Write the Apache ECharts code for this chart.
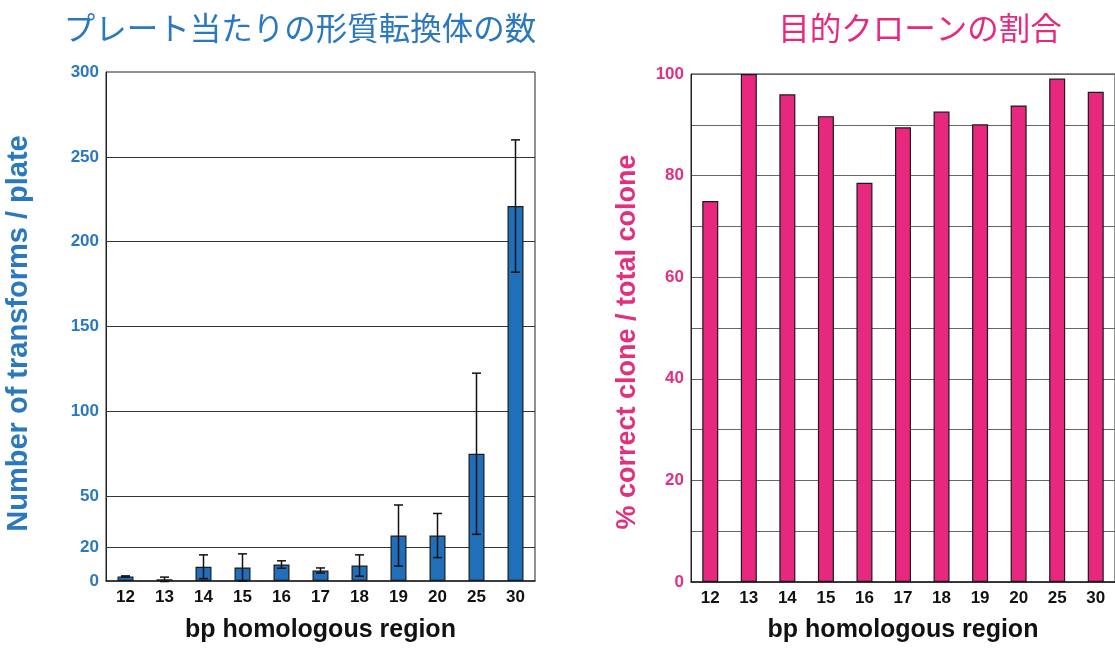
<!DOCTYPE html>
<html>
<head>
<meta charset="utf-8">
<script src="https://cdn.jsdelivr.net/npm/echarts@6/dist/echarts.min.js"></script>
<style>
  html, body { margin: 0; padding: 0; background: #ffffff; }
  #chart { width: 1115px; height: 648px; }
</style>
</head>
<body>
<div id="chart"></div>
<script>
// bp homologous region
const regions = ['12', '13', '14', '15', '16', '17', '18', '19', '20', '25', '30']

// left: transformants per plate (mean and error half-width)
const transformants = [2.7, 1, 8.4, 8, 9.7, 6.2, 9.1, 26.8, 26.8, 75, 221]
const transformErr = [0.3, 1.3, 7, 8, 2.2, 1.5, 6.3, 18, 13, 47.5, 39]
const leftTicks = [0, 20, 50, 100, 150, 200, 250, 300]
const leftGridLines = [20, 50, 100, 150, 200, 250]

// right: % correct clone / total clone
const correctRate = [75, 100, 96, 91.7, 78.6, 89.5, 92.6, 90.1, 93.8, 99.1, 96.5]

const blue = '#1f6fba'
const blueText = '#2a78bf'
const pink = '#e8287f'
const pinkText = '#e2307f'
const font = 'Liberation Sans, Arial, sans-serif'

const errData = transformants.map((v, i) => [i, v - transformErr[i], v + transformErr[i]])

const chart = echarts.init(document.getElementById('chart'))

chart.setOption({
  animation: false,
  textStyle: { fontFamily: font },
  title: [
    {
      text: 'プレート当たりの形質転換体の数',
      left: 295,
      top: 7,
      textAlign: 'center',
      textStyle: { fontFamily: 'Noto Sans CJK JP', fontWeight: 'normal', fontSize: 31.5, color: blueText },
    },
    {
      text: '目的クローンの割合',
      left: 915,
      top: 7,
      textAlign: 'center',
      textStyle: { fontFamily: 'Noto Sans CJK JP', fontWeight: 'normal', fontSize: 31.5, color: pink },
    },
  ],
  grid: [
    { left: 106, top: 72, width: 429, height: 513, show: true, borderColor: '#222', borderWidth: 1 },
    { left: 691, top: 74, width: 425, height: 512, show: true, borderColor: '#222', borderWidth: 1 },
  ],
  xAxis: [
    {
      type: 'category',
      gridIndex: 0,
      data: regions,
      axisLine: { lineStyle: { color: '#222', width: 1.5 } },
      axisTick: { show: false },
      axisLabel: { color: '#111', fontWeight: 'bold', fontSize: 17, margin: 8 },
      name: 'bp homologous region',
      nameLocation: 'middle',
      nameGap: 37,
      nameTextStyle: { color: '#111', fontWeight: 'bold', fontSize: 25 },
    },
    {
      type: 'category',
      gridIndex: 1,
      data: regions,
      axisLine: { lineStyle: { color: '#222', width: 1.5 } },
      axisTick: { show: false },
      axisLabel: { color: '#111', fontWeight: 'bold', fontSize: 17, margin: 8 },
      name: 'bp homologous region',
      nameLocation: 'middle',
      nameGap: 36,
      nameTextStyle: { color: '#111', fontWeight: 'bold', fontSize: 25 },
    },
  ],
  yAxis: [
    {
      type: 'value',
      gridIndex: 0,
      min: 0,
      max: 300,
      interval: 10,
      axisLine: { show: true, lineStyle: { color: '#222' } },
      axisTick: { show: false },
      splitLine: { show: false },
      axisLabel: {
        color: blueText,
        fontWeight: 'bold',
        fontSize: 17,
        margin: 7,
        formatter: (v) => (leftTicks.includes(v) ? String(v) : ''),
      },
      name: 'Number of transforms / plate',
      nameLocation: 'middle',
      nameGap: 73,
      nameTextStyle: { color: blueText, fontWeight: 'bold', fontSize: 29, padding: [0, 14, 0, 0] },
    },
    {
      type: 'value',
      gridIndex: 1,
      min: 0,
      max: 100,
      interval: 10,
      axisLine: { show: true, lineStyle: { color: '#222' } },
      axisTick: { show: false },
      splitLine: { show: true, lineStyle: { color: '#666', width: 1 } },
      axisLabel: {
        color: pinkText,
        fontWeight: 'bold',
        fontSize: 17,
        margin: 7,
        formatter: (v) => (v % 20 === 0 ? String(v) : ''),
      },
      name: '% correct clone / total colone',
      nameLocation: 'middle',
      nameGap: 50,
      nameTextStyle: { color: pinkText, fontWeight: 'bold', fontSize: 27, padding: [0, 28, 0, 0] },
    },
  ],
  series: [
    {
      type: 'bar',
      xAxisIndex: 0,
      yAxisIndex: 0,
      data: transformants,
      barWidth: 16,
      itemStyle: { color: blue, borderColor: '#1a1a1a', borderWidth: 1.2 },
      markLine: {
        silent: true,
        symbol: 'none',
        label: { show: false },
        lineStyle: { color: '#333', type: 'solid', width: 1 },
        data: leftGridLines.map((v) => ({ yAxis: v })),
        z: 1,
      },
      z: 3,
    },
    {
      type: 'custom',
      xAxisIndex: 0,
      yAxisIndex: 0,
      data: errData,
      z: 5,
      renderItem: (params, api) => {
        const x = api.coord([api.value(0), 0])[0]
        const lo = api.coord([api.value(0), api.value(1)])[1]
        const hi = api.coord([api.value(0), api.value(2)])[1]
        const half = 4.5
        const style = { stroke: '#111', lineWidth: 1.5 }
        return {
          type: 'group',
          children: [
            { type: 'line', shape: { x1: x, y1: hi, x2: x, y2: lo }, style },
            { type: 'line', shape: { x1: x - half, y1: hi, x2: x + half, y2: hi }, style },
            { type: 'line', shape: { x1: x - half, y1: lo, x2: x + half, y2: lo }, style },
          ],
        }
      },
    },
    {
      type: 'bar',
      xAxisIndex: 1,
      yAxisIndex: 1,
      data: correctRate,
      barWidth: 16,
      itemStyle: { color: pink, borderColor: '#1a1a1a', borderWidth: 1.2 },
      z: 3,
    },
  ],
})
</script>
</body>
</html>
